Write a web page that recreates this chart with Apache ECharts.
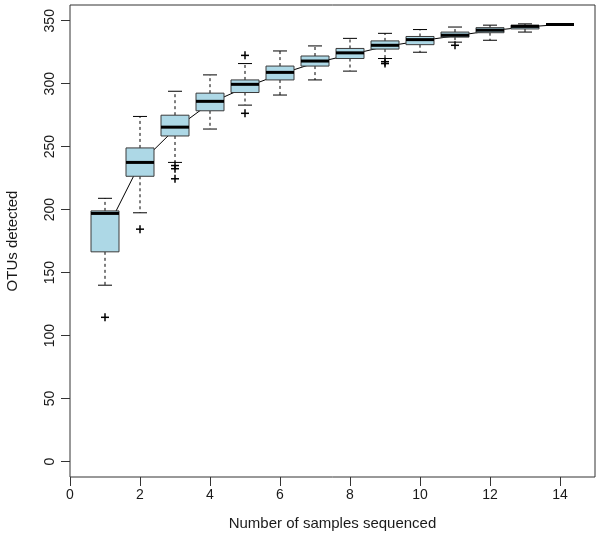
<!DOCTYPE html>
<html>
<head>
<meta charset="utf-8">
<script src="https://cdn.jsdelivr.net/npm/echarts@6/dist/echarts.min.js"></script>
<style>
html,body{margin:0;padding:0;background:#fff;}
#chart{width:602px;height:542px;}
</style>
</head>
<body>
<div id="chart"></div>
<script>
// ---- data ----
const samples      = [1, 2, 3, 4, 5, 6, 7, 8, 9, 10, 11, 12, 13, 14];
const lowWhisker   = [140, 197.5, 237.5, 264, 283, 291, 303, 310, 320, 325, 333, 334.5, 341, 347];
const lowerQuart   = [166.5, 226.5, 258.5, 278.5, 293, 303, 314, 320, 327.5, 331, 337, 340.5, 343.5, 347];
const medians      = [197, 237.5, 265.5, 286, 299.5, 309, 318, 324.5, 330.5, 335, 338.5, 342.5, 345.5, 347];
const upperQuart   = [199, 249, 275, 292.5, 303, 314, 322, 328, 334, 337.5, 341, 344.5, 346.5, 347];
const highWhisker  = [209, 274, 294, 307, 316, 326, 330, 336, 340, 343, 345, 346.5, 347.5, 347];
const means        = [181.5, 236.7, 264, 284.5, 297, 307.5, 316.5, 323, 329.5, 334, 338, 342, 345, 347];
const outliers     = [[1, 114.5], [2, 184.5], [3, 235], [3, 232.5], [3, 224.5], [5, 322.5], [5, 276.5], [9, 317.5], [9, 316], [11, 330.5]];
const xTicks       = [0, 2, 4, 6, 8, 10, 12, 14];
const yTicks       = [0, 50, 100, 150, 200, 250, 300, 350];

const boxData = samples.map((s, i) => [s, lowWhisker[i], lowerQuart[i], medians[i], upperQuart[i], highWhisker[i]]);
const meanData = samples.map((s, i) => [s, means[i]]);

const HALF_BOX = 0.4, HALF_CAP = 0.2;

function renderBox(params, api) {
  const x = api.value(0), lw = api.value(1), q1 = api.value(2), med = api.value(3), q3 = api.value(4), hw = api.value(5);
  const c = (a, b) => api.coord([a, b]);
  const tl = c(x - HALF_BOX, q3), br = c(x + HALF_BOX, q1);
  const dash = {stroke: '#000', lineWidth: 1, lineDash: [3, 3]};
  const solid = {stroke: '#000', lineWidth: 1};
  const children = [];
  if (hw > q3) {
    const a = c(x, q3), b = c(x, hw);
    children.push({type: 'line', shape: {x1: a[0], y1: a[1], x2: b[0], y2: b[1]}, style: dash});
  }
  if (lw < q1) {
    const a = c(x, q1), b = c(x, lw);
    children.push({type: 'line', shape: {x1: a[0], y1: a[1], x2: b[0], y2: b[1]}, style: dash});
  }
  const h1 = c(x - HALF_CAP, hw), h2 = c(x + HALF_CAP, hw);
  children.push({type: 'line', shape: {x1: h1[0], y1: h1[1], x2: h2[0], y2: h2[1]}, style: solid});
  const l1 = c(x - HALF_CAP, lw), l2 = c(x + HALF_CAP, lw);
  children.push({type: 'line', shape: {x1: l1[0], y1: l1[1], x2: l2[0], y2: l2[1]}, style: solid});
  children.push({type: 'rect', shape: {x: tl[0], y: tl[1], width: br[0] - tl[0], height: br[1] - tl[1]},
    style: {fill: '#ADD8E6', stroke: '#3a3a3a', lineWidth: 1}});
  const m1 = c(x - HALF_BOX, med), m2 = c(x + HALF_BOX, med);
  children.push({type: 'line', shape: {x1: m1[0], y1: m1[1], x2: m2[0], y2: m2[1]}, style: {stroke: '#000', lineWidth: 3}});
  return {type: 'group', children: children};
}

function renderPlus(params, api) {
  const p = api.coord([api.value(0), api.value(1)]);
  const r = 4;
  const st = {stroke: '#000', lineWidth: 1.5};
  return {type: 'group', children: [
    {type: 'line', shape: {x1: p[0] - r, y1: p[1], x2: p[0] + r, y2: p[1]}, style: st},
    {type: 'line', shape: {x1: p[0], y1: p[1] - r, x2: p[0], y2: p[1] + r}, style: st}
  ]};
}

const chart = echarts.init(document.getElementById('chart'), null, {renderer: 'canvas'});
const textColor = '#1a1a1a';
chart.setOption({
  animation: false,
  backgroundColor: '#fff',
  grid: {left: 70, top: 5, width: 525, height: 472, show: true, borderColor: '#333', borderWidth: 1,
         backgroundColor: 'transparent', containLabel: false, outerBoundsMode: 'none'},
  xAxis: {
    type: 'value', min: 0, max: 15,
    name: 'Number of samples sequenced', nameLocation: 'middle', nameGap: 39, nameMoveOverlap: false,
    nameTextStyle: {fontFamily: 'Liberation Sans', fontSize: 15, color: textColor},
    axisLine: {show: false, onZero: false},
    axisTick: {show: true, length: 9, customValues: xTicks, lineStyle: {color: '#333'}},
    axisLabel: {customValues: xTicks, margin: 11, fontFamily: 'Liberation Sans', fontSize: 14, color: textColor},
    splitLine: {show: false}
  },
  yAxis: {
    type: 'value', min: -12.3, max: 362.5,
    name: 'OTUs detected', nameLocation: 'middle', nameGap: 50, nameMoveOverlap: false,
    nameTextStyle: {fontFamily: 'Liberation Sans', fontSize: 15, color: textColor},
    axisLine: {show: false, onZero: false},
    axisTick: {show: true, length: 9, customValues: yTicks, lineStyle: {color: '#333'}},
    axisLabel: {customValues: yTicks, rotate: 90, margin: 13, fontFamily: 'Liberation Sans', fontSize: 14, color: textColor},
    splitLine: {show: false}
  },
  series: [
    {type: 'line', data: meanData, symbol: 'none', lineStyle: {color: '#000', width: 1}, z: 1},
    {type: 'custom', data: boxData, renderItem: renderBox, z: 2},
    {type: 'custom', data: outliers, renderItem: renderPlus, z: 3}
  ]
});
</script>
</body>
</html>
